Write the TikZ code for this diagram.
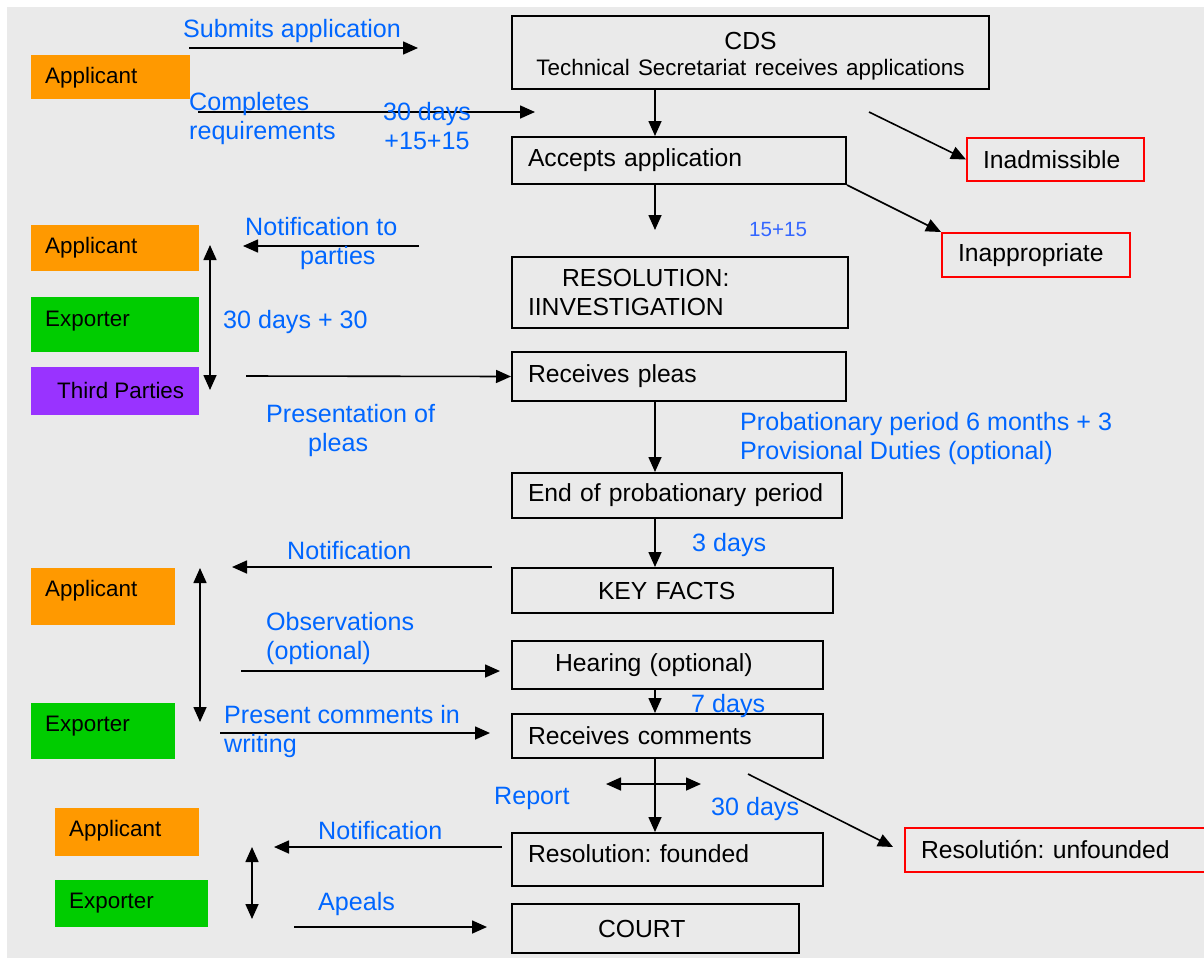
\documentclass[tikz,border=0pt]{standalone}
\usepackage{fontspec}
\setmainfont{Liberation Sans}
\usetikzlibrary{arrows.meta}
\frenchspacing
\definecolor{bggray}{RGB}{234,234,234}
\definecolor{actorange}{RGB}{255,153,0}
\definecolor{actgreen}{RGB}{0,204,0}
\definecolor{actpurple}{RGB}{153,51,255}
\definecolor{lblblue}{RGB}{0,102,255}
\definecolor{lblblueB}{RGB}{51,102,255}
\definecolor{endred}{RGB}{255,0,0}
\newcommand{\boxfont}{\fontsize{24.7}{29}\selectfont}
\newcommand{\actorfont}{\fontsize{22.4}{26}\selectfont}
\newcommand{\lblfont}{\fontsize{25.1}{29}\selectfont}
\newcommand{\smallfont}{\fontsize{20.6}{24}\selectfont}
\tikzset{
    stepbox/.style={draw=black, line width=2pt, fill=bggray, anchor=north west,
        inner xsep=16pt, inner ysep=0pt, align=left, font=\boxfont},
    endbox/.style={stepbox, draw=endred},
    actorbox/.style={fill=#1, anchor=north west, inner sep=0pt},
    actortext/.style={anchor=west, inner sep=0pt, yshift=-3pt, font=\actorfont},
    lbl/.style={anchor=west, inner sep=0pt, yshift=-2.5pt, text=lblblue, align=left, font=\lblfont},
    arr/.style={line width=1.6pt, -{Triangle[length=15pt,width=13pt]}},
    dblarr/.style={line width=1.6pt, {Triangle[length=15pt,width=13pt]}-{Triangle[length=15pt,width=13pt]}}
}
\begin{document}
\begin{tikzpicture}[x=1pt, y=-1pt]
                \useasboundingbox (0,0) rectangle (1204,959);
                \fill[white] (0,0) rectangle (1204,959);
                \fill[bggray] (7,7) rectangle (1204,958);
                \node[stepbox, text width=445pt, minimum height=73pt, align=center] (cds) at (511,15)
                    {\rule{0pt}{24pt}CDS\\[-3pt]{\fontsize{22.4}{26}\selectfont Technical Secretariat receives applications}};
                \node[stepbox, text width=302pt, minimum height=47pt] (accept) at (511,136) {Accepts application};
                \node[stepbox, text width=304pt, minimum height=71pt] (resol) at (511,256)
                    {\hspace*{34pt}RESOLUTION:\\IINVESTIGATION};
                \node[stepbox, text width=302pt, minimum height=49pt] (pleas) at (511,351) {Receives pleas};
                \node[stepbox, text width=298pt, minimum height=45pt] (endprob) at (511,472) {End of probationary period};
                \node[stepbox, text width=289pt, minimum height=45pt] (keyfacts) at (511,567) {\hspace*{70pt}KEY FACTS};
                \node[stepbox, text width=279pt, minimum height=48pt] (hearing) at (511,640) {\hspace*{27pt}Hearing (optional)};
                \node[stepbox, text width=279pt, minimum height=44pt] (comments) at (511,713) {Receives comments};
                \node[stepbox, text width=279pt, minimum height=53pt, text depth=12pt] (founded) at (511,832) {Resolution: founded};
                \node[stepbox, text width=255pt, minimum height=49pt] (court) at (511,903) {\hspace*{70pt}COURT};
                \node[endbox, text width=145pt, minimum height=43pt] (inadm) at (966,137) {Inadmissible};
                \node[endbox, text width=156pt, minimum height=44pt] (inappr) at (941,232) {Inappropriate};
                \node[endbox, text width=289pt, minimum height=44pt] (unfound) at (904,827) {Resolutión: unfounded};
                \node[actorbox=actorange, minimum width=159pt, minimum height=44pt] (applA) at (31,55) {};
                \node[actorbox=actorange, minimum width=168pt, minimum height=46pt] (applB) at (31,225) {};
                \node[actorbox=actgreen, minimum width=168pt, minimum height=55pt] (exportB) at (31,297) {};
                \node[actorbox=actpurple, minimum width=168pt, minimum height=48pt] (thirdB) at (31,367) {};
                \node[actorbox=actorange, minimum width=144pt, minimum height=57pt] (applC) at (31,568) {};
                \node[actorbox=actgreen, minimum width=144pt, minimum height=56pt] (exportC) at (31,703) {};
                \node[actorbox=actorange, minimum width=144pt, minimum height=48pt] (applD) at (55,808) {};
                \node[actorbox=actgreen, minimum width=153pt, minimum height=47pt] (exportD) at (55,880) {};
                \node[actortext] (applAtxt) at (45,75) {Applicant};
                \node[actortext] (applBtxt) at (45,245) {Applicant};
                \node[actortext] (exportBtxt) at (45,318) {Exporter};
                \node[actortext] (thirdBtxt) at (57,387) {Third Parties};
                \node[actortext] (applCtxt) at (45,588) {Applicant};
                \node[actortext] (exportCtxt) at (45,723) {Exporter};
                \node[actortext] (applDtxt) at (69,828) {Applicant};
                \node[actortext] (exportDtxt) at (69,900) {Exporter};
                \coordinate (spine) at (655,0);
                \coordinate (submitS) at (189,48);
                \coordinate (submitE) at (418,48);
                \coordinate (completeS) at (198,112);
                \coordinate (completeE) at (535,112);
                \coordinate (acceptE) at (655,230);
                \coordinate (inadmS) at (869,112);
                \coordinate (notifyAS) at (419,246);
                \coordinate (notifyAE) at (243,246);
                \coordinate (partyTop) at (210,245);
                \coordinate (partyBot) at (210,390);
                \coordinate (pleaS) at (246,376);
                \coordinate (notifyBS) at (492,567);
                \coordinate (notifyBE) at (232,567);
                \coordinate (obsTop) at (200,568);
                \coordinate (obsBot) at (200,722);
                \coordinate (observeS) at (241,671);
                \coordinate (observeE) at (500,671);
                \coordinate (presentS) at (220,733);
                \coordinate (presentE) at (490,733);
                \coordinate (reportL) at (606,784);
                \coordinate (reportR) at (701,784);
                \coordinate (unfoundS) at (748,774);
                \coordinate (unfoundE) at (893,847);
                \coordinate (notifyCS) at (502,847);
                \coordinate (notifyCE) at (274,847);
                \coordinate (appealTop) at (252,847);
                \coordinate (appealBot) at (252,919);
                \coordinate (apealsS) at (294,927);
                \coordinate (apealsE) at (487,927);
                \draw[arr] (submitS) -- (submitE);
                \draw[arr] (completeS) -- (completeE);
                \draw[arr] (cds.south -| spine) -- (accept.north -| spine);
                \draw[arr] (accept.south -| spine) -- (acceptE);
                \draw[arr] (inadmS) -- (inadm.west);
                \draw[arr] (accept.south east) -- (inappr.north west);
                \draw[arr] (notifyAS) -- (notifyAE);
                \draw[dblarr] (partyTop) -- (partyBot);
                \draw[arr] (pleaS) -- (pleas.west);
                \draw[arr] (pleas.south -| spine) -- (endprob.north -| spine);
                \draw[arr] (endprob.south -| spine) -- (keyfacts.north -| spine);
                \draw[arr] (notifyBS) -- (notifyBE);
                \draw[dblarr] (obsTop) -- (obsBot);
                \draw[arr] (observeS) -- (observeE);
                \draw[arr] (presentS) -- (presentE);
                \draw[arr] (hearing.south -| spine) -- (comments.north -| spine);
                \draw[arr] (comments.south -| spine) -- (founded.north -| spine);
                \draw[dblarr] (reportL) -- (reportR);
                \draw[arr] (unfoundS) -- (unfoundE);
                \draw[arr] (notifyCS) -- (notifyCE);
                \draw[dblarr] (appealTop) -- (appealBot);
                \draw[arr] (apealsS) -- (apealsE);
                \node[lbl] (submitlbl) at (183,29) {Submits application};
                \node[lbl] (completelbl) at (189,116) {Completes\\requirements};
                \node[lbl, align=center, anchor=center] (daysA) at (427,124) {30 days\\+15+15};
                \node[lbl] (notifyA) at (245,241) {Notification to\\\hspace*{55pt}parties};
                \node[lbl] (daysB) at (223,320) {30 days + 30};
                \node[lbl] (pleaslbl) at (266,428) {Presentation of\\\hspace*{42pt}pleas};
                \node[lbl, font=\smallfont, text=lblblueB] (daysC) at (749,227) {15+15};
                \node[lbl] (probation) at (740,436) {Probationary period 6 months + 3\\Provisional Duties (optional)};
                \node[lbl] (daysD) at (692,542) {3 days};
                \node[lbl] (notifyB) at (287,548) {Notification};
                \node[lbl] (observe) at (266,635.5) {Observations\\(optional)};
                \node[lbl] (present) at (224,728.5) {Present comments in\\writing};
                \node[lbl] (daysE) at (691,703) {7 days};
                \node[lbl] (report) at (494,796) {Report};
                \node[lbl] (daysF) at (711,806) {30 days};
                \node[lbl] (notifyC) at (318,828) {Notification};
                \node[lbl] (apeals) at (318,901) {Apeals};
\end{tikzpicture}
\end{document}
